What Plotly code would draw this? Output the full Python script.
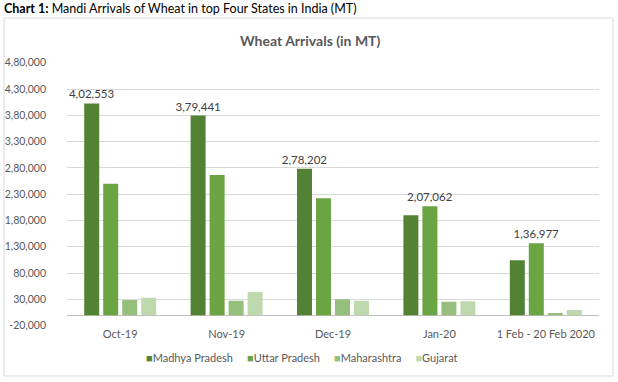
import plotly.graph_objects as go

categories = ["Oct-19", "Nov-19", "Dec-19", "Jan-20", "1 Feb - 20 Feb 2020"]
madhya_pradesh = [402553, 379441, 278202, 190000, 104400]
uttar_pradesh = [250000, 266500, 222200, 207062, 136977]
maharashtra = [28900, 27600, 30200, 25700, 4200]
gujarat = [33300, 44100, 27600, 26400, 9900]
series_names = ["Madhya Pradesh", "Uttar Pradesh", "Maharashtra", "Gujarat"]
colors = ["#548235", "#6AA443", "#95C07C", "#BFD9AE"]
y_ticks = list(range(-20000, 480001, 50000))


def indian(n):
    s = str(abs(int(n)))
    if len(s) > 3:
        head, tail = s[:-3], s[-3:]
        parts = []
        while len(head) > 2:
            parts.insert(0, head[-2:])
            head = head[:-2]
        if head:
            parts.insert(0, head)
        s = ",".join(parts) + "," + tail
    return ("-" if n < 0 else "") + s


all_series = [madhya_pradesh, uttar_pradesh, maharashtra, gujarat]
group_max = [max(vals) for vals in zip(*all_series)]

font = "Lato, 'Open Sans', sans-serif"
fig = go.Figure()
for name, vals, col in zip(series_names, all_series, colors):
    texts = [indian(v) if v == m else "" for v, m in zip(vals, group_max)]
    fig.add_trace(go.Bar(
        name=name, x=categories, y=vals, marker_color=col,
        marker_line_width=0,
        text=texts, textposition="outside", constraintext="none",
        cliponaxis=False,
        textfont=dict(family=font, size=11.5, color="#404040"),
        hoverinfo="x+y+name", showlegend=False,
    ))

legend_text = "&nbsp;&nbsp;&nbsp;&nbsp;&nbsp;".join(
    f"<span style='color:{c}'>■</span>{n}" for n, c in zip(series_names, colors)
)

fig.update_layout(
    width=618, height=382,
    margin=dict(l=0, r=0, t=0, b=0),
    paper_bgcolor="white", plot_bgcolor="white",
    barmode="group", bargap=0.286, bargroupgap=0.21,
    font=dict(family=font, size=11, color="#595959"),
    showlegend=False,
    xaxis=dict(domain=[67/618, 599/618], showgrid=False, showline=False,
               ticks="", tickfont=dict(size=11, color="#595959"), automargin=False),
    yaxis=dict(domain=[1 - 325.7/382, 1 - 62.7/382], range=[-20000, 480000],
               tickvals=y_ticks, ticktext=[indian(v) for v in y_ticks],
               showgrid=True, gridcolor="#D9D9D9", gridwidth=1,
               zeroline=True, zerolinecolor="#BFBFBF", zerolinewidth=1,
               showline=False, ticks="", ticklabelstandoff=20, automargin=False,
               tickfont=dict(size=10.5, color="#595959")),
    shapes=[dict(type="rect", xref="paper", yref="paper",
                 x0=4/618, x1=613/618, y0=1 - 376/382, y1=1 - 18/382,
                 line=dict(color="#D9D9D9", width=1), layer="below")],
    annotations=[
        dict(text="<b>Chart 1:</b> Mandi Arrivals of Wheat in top Four States in India (MT)",
             xref="paper", yref="paper", x=2/618, y=1 - 9/382, xanchor="left", yanchor="middle",
             showarrow=False, font=dict(family=font, size=12.5, color="#000000")),
        dict(text="<b>Wheat Arrivals (in MT)</b>",
             xref="paper", yref="paper", x=310/618, y=1 - 41/382, xanchor="center", yanchor="middle",
             showarrow=False, font=dict(family=font, size=14, color="#595959")),
        dict(text=legend_text,
             xref="paper", yref="paper", x=302/618, y=1 - 357/382, xanchor="center", yanchor="middle",
             showarrow=False, font=dict(family=font, size=11, color="#595959")),
        dict(text="Source: Agmarknet",
             xref="paper", yref="paper", x=2/618, y=1 - 377/382, xanchor="left", yanchor="top",
             showarrow=False, font=dict(family=font, size=12, color="#000000")),
    ],
)

post = (
    "document.body.style.margin='0';"
    "document.documentElement.style.overflow='hidden';"
    "var d=document.querySelector('.plotly-graph-div');"
    "if(d){d.style.position='fixed';d.style.top='0';d.style.left='0';}"
)
fig.write_html("out.html", config={"displayModeBar": False}, post_script=post)
